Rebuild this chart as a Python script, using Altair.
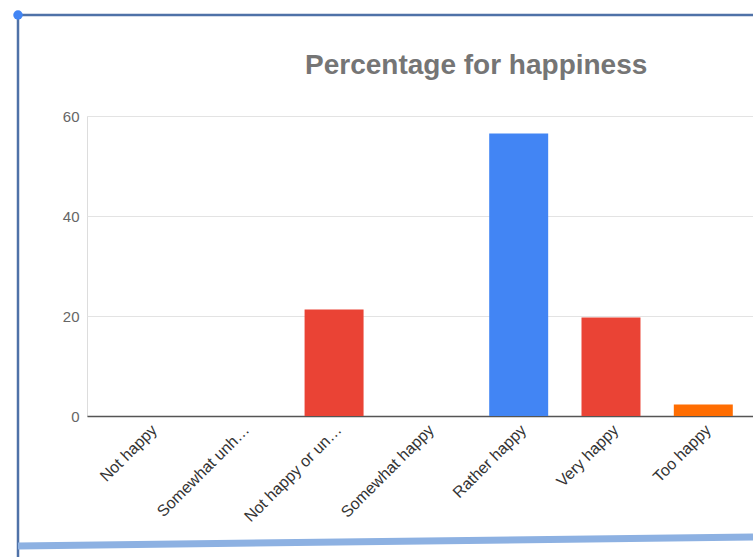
import altair as alt
import pandas as pd

categories = ["Not happy", "Somewhat unh…", "Not happy or un…", "Somewhat happy",
              "Rather happy", "Very happy", "Too happy"]
values = [0, 0, 21.3, 0, 56.5, 19.7, 2.3]
bar_colors = ["#EA4335", "#EA4335", "#EA4335", "#EA4335", "#4285F4", "#EA4335", "#FF6D01"]
y_ticks = [0, 20, 40, 60]

df = pd.DataFrame({"label": categories, "pct": values})

FONT = "Liberation Sans"

bars = alt.Chart(df).mark_bar().encode(
    x=alt.X("label:N", sort=categories,
            scale=alt.Scale(paddingInner=0.361, paddingOuter=0.288, align=0.62),
            axis=alt.Axis(title=None, labelAngle=-45, labelAlign="right", labelBaseline="middle",
                          labelFontSize=16, labelColor="#333333", labelFont=FONT,
                          labelPadding=11, labelOffset=5, ticks=False,
                          domainColor="#555555", domainWidth=1.5, grid=False)),
    y=alt.Y("pct:Q", scale=alt.Scale(domain=[0, 60], nice=False),
            axis=alt.Axis(title=None, values=y_ticks, labelFontSize=15, labelColor="#666666",
                          labelFont=FONT, labelPadding=8, ticks=False, domain=False,
                          gridColor="#e3e3e3", gridWidth=1.2)),
    color=alt.Color("label:N", scale=alt.Scale(domain=categories, range=bar_colors), legend=None),
)

deco = pd.DataFrame({"d": [0]})
top_line = alt.Chart(deco).mark_rule(color="#4f72a8", strokeWidth=2.5).encode(
    x=alt.value(-69), x2=alt.value(666), y=alt.value(-101))
left_line = alt.Chart(deco).mark_rule(color="#4f72a8", strokeWidth=2.5).encode(
    x=alt.value(-69), y=alt.value(-101), y2=alt.value(441))
bottom_line = alt.Chart(deco).mark_rule(color="#8db1e2", strokeWidth=7).encode(
    x=alt.value(-69), y=alt.value(430), x2=alt.value(666), y2=alt.value(421))
dot = alt.Chart(deco).mark_point(filled=True, color="#4285F4", size=90, opacity=1).encode(
    x=alt.value(-69), y=alt.value(-101))

chart = alt.layer(bars, top_line, left_line, bottom_line, dot).properties(
    width=666, height=300,
    title=alt.TitleParams("Percentage for happiness", anchor="start", frame="group", dx=218,
                          offset=0, dy=70, fontSize=28, color="#757575",
                          font=FONT, fontWeight="bold"),
    autosize=alt.AutoSizeParams(type="none"),
    padding={"left": 87, "top": 116, "right": 0, "bottom": 141},
).configure_view(stroke=None).configure(background="white")

chart.save("out.html", embed_options={"renderer": "svg", "actions": False})
